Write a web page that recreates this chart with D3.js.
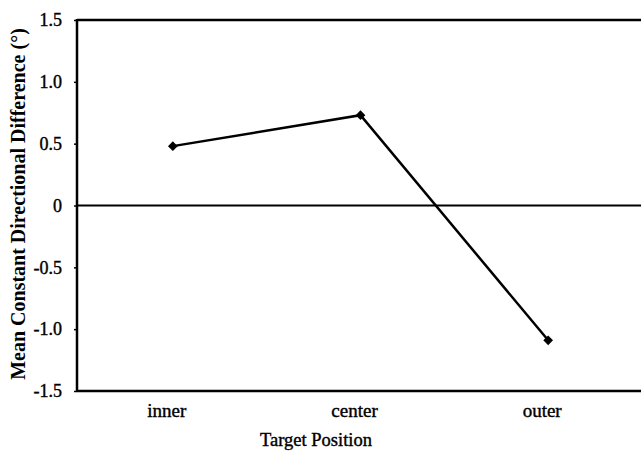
<!DOCTYPE html>
<html>
<head>
<meta charset="utf-8">
<script src="https://cdn.jsdelivr.net/npm/d3@7"></script>
<style>
  body { margin: 0; background: #fff; }
  text { font-family: "Liberation Serif", "DejaVu Serif", serif; fill: #000; }
</style>
</head>
<body>
<svg width="641" height="453"></svg>
<script>
const categories = ['inner', 'center', 'outer'];
const values = [0.48, 0.73, -1.09];
const yTicks = [-1.5, -1.0, -0.5, 0, 0.5, 1.0, 1.5];

const svg = d3.select('svg');
const plotLeft = 77, plotTop = 20, plotBottom = 391, plotRight = 641;

const x = d3.scalePoint().domain(categories).range([plotLeft + 2, plotRight + 1]).padding(0.5);
const y = d3.scaleLinear().domain([-1.5, 1.5]).range([plotBottom, plotTop]);

// plain hyphen for negatives, like the original
const fmt = d => (d === 0 ? '0' : d.toFixed(1));

// frame
svg.append('line').attr('x1', plotLeft).attr('x2', plotRight).attr('y1', plotTop).attr('y2', plotTop)
  .attr('stroke', '#000').attr('stroke-width', 2.5);
svg.append('line').attr('x1', plotLeft).attr('x2', plotRight).attr('y1', plotBottom).attr('y2', plotBottom)
  .attr('stroke', '#000').attr('stroke-width', 2.5);
svg.append('line').attr('x1', plotLeft).attr('x2', plotRight).attr('y1', y(0)).attr('y2', y(0))
  .attr('stroke', '#000').attr('stroke-width', 2);

// y axis
const yAxis = svg.append('g')
  .attr('transform', `translate(${plotLeft},0)`)
  .call(d3.axisLeft(y).tickValues(yTicks).tickFormat(fmt).tickSize(3).tickPadding(12))
  .attr('font-family', '"Liberation Serif", serif')
  .attr('font-size', 18);
yAxis.select('.domain').attr('stroke-width', 2.5).attr('d', `M0,${plotTop - 1}V${plotBottom + 1}`);
yAxis.selectAll('.tick line').attr('stroke-width', 1.5);
yAxis.selectAll('.tick text').style('stroke', '#000').style('stroke-width', 0.4);

// x labels
svg.append('g').selectAll('text')
  .data(categories)
  .enter().append('text')
    .attr('x', d => x(d) - 6)
    .attr('y', 417)
    .attr('text-anchor', 'middle')
    .style('font-size', '19px')
    .style('stroke', '#000').style('stroke-width', 0.4)
    .text(d => d);

svg.append('text')
  .attr('x', 316).attr('y', 446)
  .attr('text-anchor', 'middle')
  .style('font-size', '18.5px')
  .style('stroke', '#000').style('stroke-width', 0.4)
  .text('Target Position');

svg.append('text')
  .attr('transform', `translate(25,204) rotate(-90)`)
  .attr('text-anchor', 'middle')
  .style('font-size', '20px')
  .style('font-weight', 'bold')
  .text('Mean Constant Directional Difference (°)');

// series
const line = d3.line().x((d, i) => x(categories[i])).y(d => y(d));
svg.append('path')
  .datum(values)
  .attr('fill', 'none')
  .attr('stroke', '#000')
  .attr('stroke-width', 2.5)
  .attr('d', line);

svg.append('g').selectAll('path')
  .data(values)
  .enter().append('path')
    .attr('transform', (d, i) => `translate(${x(categories[i])},${y(d)})`)
    .attr('d', d3.symbol().type(d3.symbolDiamond2).size(60))
    .attr('fill', '#000');
</script>
</body>
</html>
